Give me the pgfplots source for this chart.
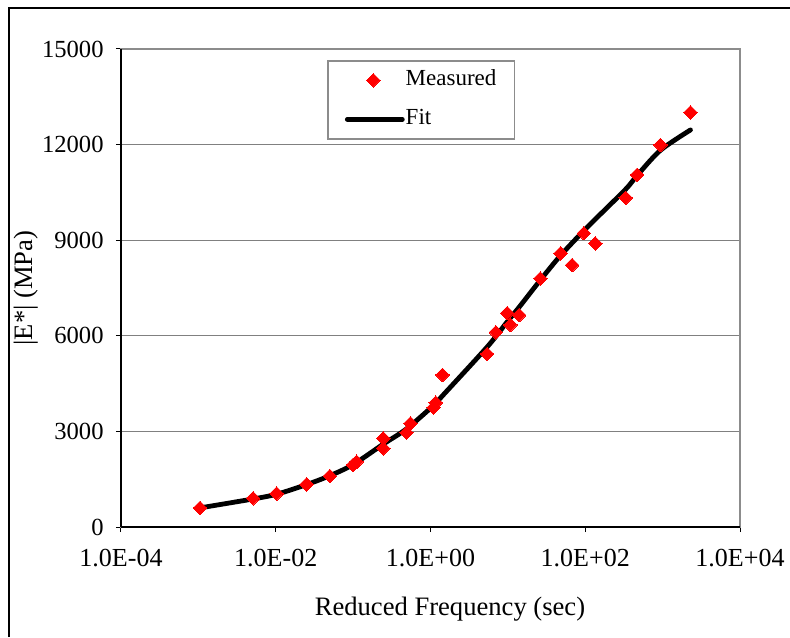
\documentclass[border=0pt]{standalone}
\usepackage{fontspec}
\setmainfont{Liberation Serif}
\usepackage{pgfplots}
\pgfplotsset{compat=1.18}
\definecolor{gridgray}{RGB}{128,128,128}
\definecolor{boxgray}{RGB}{140,140,140}
\pgfplotsset{
  markleg/.style={legend image code/.code={\draw[mark repeat=2,mark phase=2,##1] plot coordinates {(0pt,0pt) (13pt,0pt) (27.5pt,0pt)};}},
  lineleg/.style={legend image code/.code={\draw[##1] (0pt,0pt) -- (27.5pt,0pt);}},
}
\begin{document}
\begin{tikzpicture}
\useasboundingbox (0,0) rectangle (395pt,318.5pt);
\draw[black, line width=1pt] (4.5pt,0pt) -- (4.5pt,314.5pt) -- (395pt,314.5pt);
\begin{axis}[
  at={(60.5pt,55pt)}, anchor=south west,
  scale only axis, width=309.5pt, height=239pt,
  xmode=log, xmin=1e-4, xmax=1e4,
  ymin=0, ymax=15000,
  xtick={1e-4,1e-2,1,1e2,1e4},
  xticklabels={1.0E-04,1.0E-02,1.0E+00,1.0E+02,1.0E+04},
  minor xtick={},
  ytick={0,3000,6000,9000,12000,15000},
  scaled y ticks=false,
  yticklabel={\pgfmathprintnumber[fixed,precision=0,1000 sep={}]{\tick}},
  /pgf/number format/assume math mode=true,
  ymajorgrids,
  major grid style={gridgray, line width=0.6pt},
  axis line style={boxgray, line width=1pt},
  tick align=outside,
  major tick length=2.5pt,
  tick style={black, line width=0.5pt},
  xtick pos=bottom, ytick pos=left,
  xticklabel style={font=\fontsize{13}{16}\selectfont, inner sep=0pt, anchor=north, yshift=-8.5pt},
  yticklabel style={font=\fontsize{12.3}{15}\selectfont, inner sep=0pt, anchor=east, xshift=-6pt},
  label style={font=\fontsize{13.3}{16}\selectfont},
  xlabel={Reduced Frequency (sec)},
  ylabel={|E*| (MPa)},
  xlabel style={at={(axis description cs:0.5315,-0.172)}, anchor=center},
  ylabel style={at={(axis description cs:-0.153,0.5)}, anchor=center},
  legend style={at={(0.333,0.977)}, anchor=north west, draw=boxgray, line width=0.8pt,
    font=\fontsize{11.5}{13}\selectfont, inner xsep=8.5pt, inner ysep=4.5pt,
    row sep=9pt,
    nodes={inner xsep=0.5pt, inner ysep=0pt, text height=8pt, text depth=2.5pt}},
  legend cell align=left,
]
\addplot[only marks, mark=square*, mark size=2.4pt,
  mark options={rotate=45, fill=red, draw=red, line width=0pt}, markleg]
coordinates {
(1.05e-3,600) (5.1e-3,900) (0.0103,1050) (0.025,1340) (0.050,1600)
(0.100,1950) (0.111,2050) (0.245,2470) (0.245,2780) (0.49,2960)
(0.553,3250) (1.10,3750) (1.17,3900) (1.43,4770) (5.4,5430)
(7.0,6110) (9.8,6710) (10.8,6340) (14.0,6650) (26.3,7800)
(47.9,8590) (67.8,8220) (95.9,9220) (135,8900) (333,10330)
(468,11050) (935,11990) (2290,13010)
};
\addlegendentry{Measured}
\addplot[black, line width=2.4pt, line cap=round, line join=round, smooth, tension=0.5, lineleg]
coordinates {
(1.05e-3,600) (5.1e-3,880) (0.0103,1030) (0.025,1330) (0.05,1610)
(0.1,1960) (0.245,2600) (0.49,3080) (1.1,3820) (1.43,4120)
(5.4,5650) (9.8,6440) (14.0,6900) (26.3,7750) (47.9,8520)
(95.9,9300) (135,9660) (333,10600) (468,11030) (935,11820) (2290,12460)
};
\addlegendentry{Fit}
\end{axis}
\begin{axis}[
  at={(60.5pt,55pt)}, anchor=south west,
  scale only axis, width=309.5pt, height=239pt,
  xmin=0, xmax=1, ymin=0, ymax=1,
  axis x line=bottom, axis y line=left,
  axis line style={black, line width=0.6pt, -},
  xtick=\empty, ytick=\empty,
]
\end{axis}
\end{tikzpicture}
\end{document}
